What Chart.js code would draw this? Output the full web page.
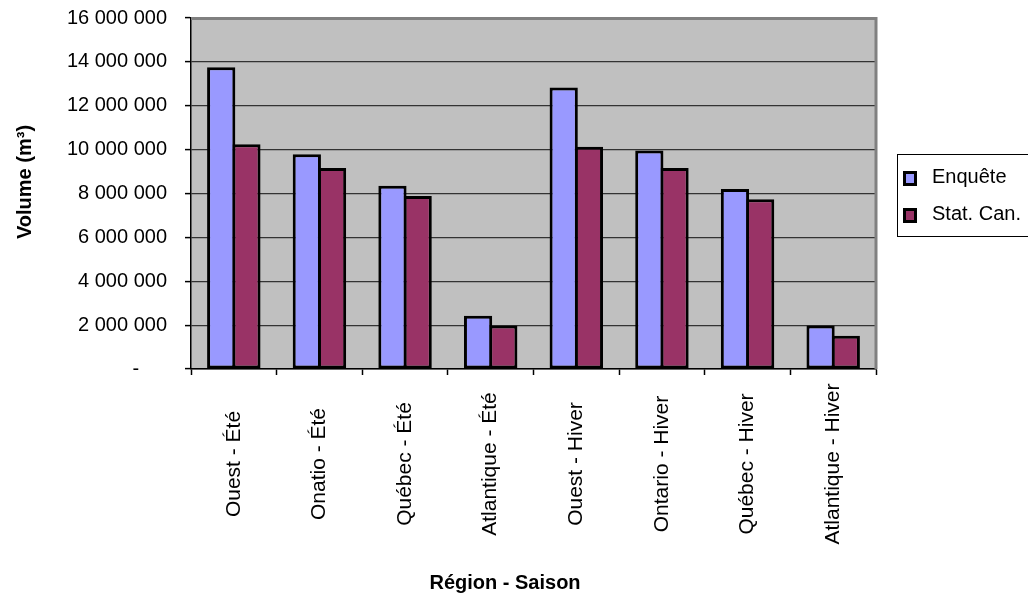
<!DOCTYPE html>
<html lang="fr">
<head>
<meta charset="utf-8">
<title>Volume par région et saison</title>
<script src="https://cdn.jsdelivr.net/npm/chart.js@4/dist/chart.umd.min.js"></script>
<style>
  html, body { margin: 0; padding: 0; background: #fff; }
  #wrap { width: 1028px; height: 598px; }
</style>
</head>
<body>
<div id="wrap"><canvas id="c" width="1028" height="598"></canvas></div>
<script>
// Catégories (région - saison)
const categories = [
  'Ouest - Été', 'Onatio - Été', 'Québec - Été', 'Atlantique - Été',
  'Ouest - Hiver', 'Ontario - Hiver', 'Québec - Hiver', 'Atlantique - Hiver'
];
// Volumes en m³
const enquete = [13760000, 9790000, 8350000, 2430000, 12830000, 9960000, 8200000, 1980000];
const statCan = [10250000, 9160000, 7890000, 1980000, 10130000, 9160000, 7740000, 1520000];
const seriesNames = ['Enquête', 'Stat. Can.'];
const seriesColors = ['#9999FF', '#993366'];
// Graduations de l'axe vertical
const yTicks = [0, 2000000, 4000000, 6000000, 8000000, 10000000, 12000000, 14000000, 16000000];
const xTitle = 'Région - Saison';
const yTitle = 'Volume (m³)';

const FONT = "'Liberation Sans', Arial, sans-serif";
Chart.defaults.font.family = FONT;
Chart.defaults.color = '#000';

function fmt(v) {
  if (v === 0) return '-     ';
  return String(v).replace(/\B(?=(\d{3})+(?!\d))/g, ' ');
}

const decor = {
  id: 'decor',
  beforeDraw(chart) {
    const { ctx, chartArea: a } = chart;
    ctx.save();
    ctx.fillStyle = '#ffffff';
    ctx.fillRect(0, 0, chart.width, chart.height);
    ctx.fillStyle = '#C0C0C0';
    ctx.fillRect(a.left, a.top, a.right - a.left, a.bottom - a.top);
    ctx.restore();
  },
  beforeDatasetsDraw(chart) {
    const { ctx, chartArea: a } = chart;
    ctx.save();
    ctx.strokeStyle = '#808080';
    ctx.lineWidth = 3;
    ctx.beginPath();
    ctx.moveTo(a.left, a.top + 0.5);
    ctx.lineTo(a.right, a.top + 0.5);
    ctx.lineTo(a.right, a.bottom);
    ctx.stroke();
    ctx.restore();
  },
  afterDraw(chart) {
    const { ctx } = chart;
    const xs = chart.scales.x;
    ctx.save();
    ctx.fillStyle = '#000';
    // étiquettes de catégories, verticales
    ctx.font = '21px ' + FONT;
    ctx.textAlign = 'center';
    ctx.textBaseline = 'middle';
    chart.data.labels.forEach((lab, i) => {
      const x = xs.getPixelForValue(i);
      ctx.save();
      ctx.translate(x, 464);
      ctx.rotate(-Math.PI / 2);
      ctx.fillText(lab, 0, 0);
      ctx.restore();
    });
    // titres des axes
    ctx.font = 'bold 20px ' + FONT;
    ctx.textBaseline = 'alphabetic';
    ctx.fillText(xTitle, 505, 589);
    ctx.save();
    ctx.translate(31, 182);
    ctx.rotate(-Math.PI / 2);
    ctx.fillText(yTitle, 0, 0);
    ctx.restore();
    // légende
    ctx.strokeStyle = '#000';
    ctx.lineWidth = 1;
    ctx.strokeRect(897.5, 154.5, 140, 82);
    ctx.font = '20px ' + FONT;
    ctx.textAlign = 'left';
    chart.data.datasets.forEach((ds, i) => {
      const y = 171 + 37 * i;
      ctx.fillStyle = '#000';
      ctx.fillRect(903, y, 14, 15);
      ctx.fillStyle = ds.backgroundColor;
      ctx.fillRect(906, y + 3, 8, 9);
      ctx.fillStyle = '#000';
      ctx.fillText(ds.label, 932, y + 12);
    });
    ctx.restore();
  }
};

new Chart(document.getElementById('c'), {
  type: 'bar',
  data: {
    labels: categories,
    datasets: [
      { label: seriesNames[0], data: enquete, backgroundColor: seriesColors[0] },
      { label: seriesNames[1], data: statCan, backgroundColor: seriesColors[1] }
    ]
  },
  options: {
    responsive: false,
    animation: false,
    devicePixelRatio: 1,
    layout: { padding: { left: 0, right: 152, top: 18, bottom: 0 } },
    datasets: {
      bar: {
        borderColor: '#000',
        borderWidth: 3,
        borderSkipped: false,
        categoryPercentage: 0.589,
        barPercentage: 1.12
      }
    },
    plugins: {
      legend: { display: false },
      tooltip: { enabled: false }
    },
    scales: {
      x: {
        offset: true,
        grid: {
          offset: true,
          drawOnChartArea: false,
          drawTicks: true,
          tickLength: 6,
          tickColor: '#000',
          tickWidth: 1.5
        },
        border: { color: '#000', width: 1.5 },
        ticks: { display: false },
        afterFit(s) { s.height = 598 - 369; s.paddingLeft = 0; s.paddingRight = 0; }
      },
      y: {
        min: 0,
        max: 16000000,
        afterBuildTicks(s) { s.ticks = yTicks.map(v => ({ value: v })); },
        grid: {
          color: '#333',
          lineWidth: 1.2,
          tickLength: 6,
          tickColor: '#000',
          tickWidth: 1.5
        },
        border: { color: '#000', width: 1.5 },
        ticks: {
          padding: 18,
          font: { size: 20 },
          color: '#000',
          callback: (v) => fmt(v)
        },
        afterFit(s) { s.width = 191; s.paddingTop = 0; s.paddingBottom = 0; }
      }
    }
  },
  plugins: [decor]
});
</script>
</body>
</html>
